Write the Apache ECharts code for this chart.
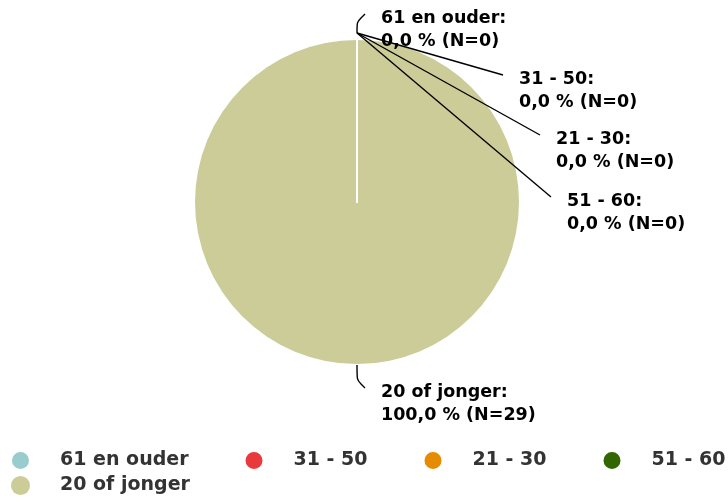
<!DOCTYPE html>
<html>
<head>
<meta charset="utf-8">
<script src="https://cdn.jsdelivr.net/npm/echarts@6/dist/echarts.min.js"></script>
<style>
  html, body { margin: 0; padding: 0; background: #fff; }
  #chart { width: 728px; height: 497px; }
</style>
</head>
<body>
<div id="chart"></div>
<script>
// leeftijdsgroepen
const categories = ["61 en ouder", "31 - 50", "21 - 30", "51 - 60", "20 of jonger"]
const counts = [0, 0, 0, 0, 29]
const colors = ["#99cccc", "#e8393b", "#e68a00", "#336600", "#cccc99"]

const CX = 357
const CY = 202
const R = 162

// eindpunt van de verbindingslijn per label (index = categorie)
const labelEnds = [
  [365, 14],
  [503, 75],
  [540, 135],
  [551, 197],
  [365, 388],
]

// gekleurde schijf: grootste segment eerst, zodat de witte randen van de lege segmenten erboven liggen
const drawOrder = [4, 0, 1, 2, 3]

const chart = echarts.init(document.getElementById("chart"))

const fmtPct = p => p.toFixed(1).replace(".", ",")

const labelLayout = params => {
  const i = params.dataIndex
  const end = labelEnds[i]
  const top = [CX, CY - R - 7]
  let pts
  if (i === 0) {
    pts = [top, [CX, end[1]], end]
  } else if (i === 4) {
    pts = [[CX, CY + R + 1], [CX, end[1]], end]
  } else {
    pts = [top, [(top[0] + end[0]) / 2, (top[1] + end[1]) / 2], end]
  }
  return {
    x: end[0] + 16,
    y: end[1] - 7,
    align: "left",
    verticalAlign: "top",
    labelLinePoints: pts,
  }
}

const pieBase = {
  type: "pie",
  center: [CX, CY],
  radius: R,
  startAngle: 90,
  clockwise: true,
  emphasis: { disabled: true },
}

const option = {
  animation: false,
  legend: {
    left: 10,
    top: 450,
    width: 800,
    padding: 0,
    icon: "circle",
    itemWidth: 19,
    itemHeight: 19,
    itemGap: 4,
    data: categories,
    textStyle: {
      fontFamily: "DejaVu Sans",
      fontSize: 19,
      fontWeight: "bold",
      color: "#333",
      lineHeight: 20,
      padding: [0, 51, 0, 25],
    },
  },
  series: [
    // de gekleurde schijf
    {
      ...pieBase,
      z: 2,
      label: { show: false },
      labelLine: { show: false },
      data: drawOrder.map(i => ({
        name: categories[i],
        value: counts[i],
        itemStyle: {
          color: colors[i],
          borderColor: "#fff",
          borderWidth: counts[i] === 0 ? 2 : 0,
        },
      })),
    },
    // labels en lijnen erboven
    {
      ...pieBase,
      z: 4,
      silent: true,
      legendHoverLink: false,
      itemStyle: { color: "rgba(0,0,0,0)", borderWidth: 0 },
      label: {
        show: true,
        fontFamily: "DejaVu Sans",
        fontSize: 17.5,
        fontWeight: "bold",
        color: "#000",
        lineHeight: 23,
        formatter: p => p.name + ":\n" + fmtPct(p.percent) + " % (N=" + p.value + ")",
      },
      labelLine: {
        show: true,
        showAbove: true,
        lineStyle: { color: "#000", width: 1.4 },
      },
      labelLayout: labelLayout,
      data: categories.map((name, i) => ({
        name: name,
        value: counts[i],
        labelLine: { smooth: i === 0 || i === 4 ? 1 : 0 },
      })),
    },
  ],
}

chart.setOption(option)
</script>
</body>
</html>
